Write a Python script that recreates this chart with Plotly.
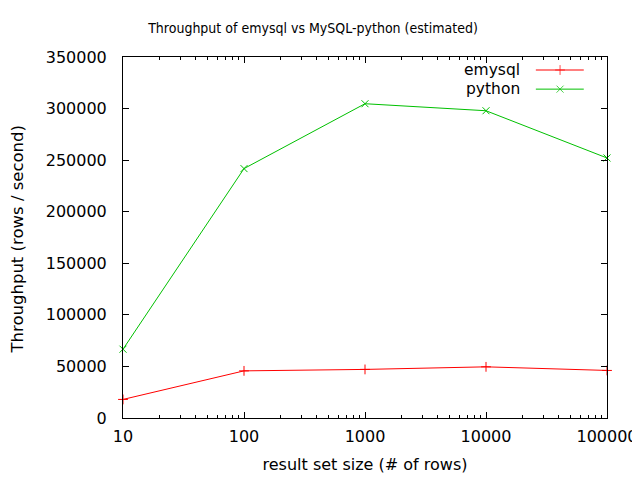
import plotly.graph_objects as go

# result set sizes and measured throughput (rows / second)
sizes = [10, 100, 1000, 10000, 100000]
emysql = [18000, 45700, 47100, 49600, 46100]
python = [66700, 241800, 304700, 297900, 252100]

series_names = ["emysql", "python"]
series_colors = ["#ff0000", "#00c000"]
series_symbols = ["cross-thin", "x-thin"]

FONT = "DejaVu Sans"
TITLE_FONT = "DejaVu Sans Condensed, DejaVu Sans"

fig = go.Figure()

for name, values, color, symbol in zip(series_names, [emysql, python],
                                       series_colors, series_symbols):
    fig.add_trace(go.Scatter(
        x=sizes, y=values, name=name, mode="lines+markers",
        line=dict(color=color, width=1),
        marker=dict(symbol=symbol, size=7,
                    line=dict(color=color, width=1)),
        showlegend=False, cliponaxis=False,
    ))

# gnuplot style key: label on the left, sample on the right
key_rows = [0.964, 0.911]
for name, color, symbol, ky in zip(series_names, series_colors,
                                   series_symbols, key_rows):
    fig.add_trace(go.Scatter(
        x=[0.853, 0.903, 0.952], y=[ky, ky, ky], xaxis="x2", yaxis="y2",
        mode="lines+markers", showlegend=False, hoverinfo="skip",
        line=dict(color=color, width=1),
        marker=dict(symbol=symbol, size=[0, 7, 0],
                    line=dict(color=color, width=1)),
    ))
    fig.add_annotation(x=0.824, y=ky, xref="x2", yref="y2", text=name,
                       showarrow=False, xanchor="right", yanchor="middle",
                       font=dict(family=FONT, size=15.5, color="#000000"))

# y axis title as a rotated annotation so it can sit close to the edge
fig.add_annotation(x=0, y=0.5, xref="paper", yref="paper",
                   text="Throughput (rows / second)", textangle=-90,
                   showarrow=False, xanchor="center", yanchor="middle",
                   xshift=-106, yshift=-2,
                   font=dict(family=FONT, size=16.5, color="#000000"))

axis_common = dict(
    showline=True, linecolor="#000000", linewidth=1, mirror="allticks",
    ticks="inside", tickcolor="#000000", ticklen=6,
    showgrid=False, zeroline=False, automargin=False,
    tickfont=dict(family=FONT, size=16, color="#000000"),
)

# the page body adds an 8px offset, so the figure is 632x472 and
# everything is placed 8px up/left of where it shows in the window
fig.update_layout(
    width=632, height=472,
    margin=dict(l=115, r=33, t=49, b=62),
    paper_bgcolor="#ffffff", plot_bgcolor="#ffffff",
    title=dict(text="Throughput of emysql vs MySQL-python (estimated)",
               x=0.4826, xanchor="center", y=0.958, yanchor="middle",
               font=dict(family=TITLE_FONT, size=14, color="#000000")),
    xaxis=dict(
        type="log", range=[1, 5],
        tickvals=[10, 100, 1000, 10000, 100000],
        ticktext=["10", "100", "1000", "10000", "100000"],
        minor=dict(ticks="inside", ticklen=3, tickcolor="#000000",
                   dtick="D1", showgrid=False),
        ticklabelstandoff=4,
        title=dict(text="result set size (# of rows)", standoff=13,
                   font=dict(family=FONT, size=16, color="#000000")),
        **axis_common,
    ),
    yaxis=dict(
        range=[0, 350000], dtick=50000, tickformat="d",
        ticklabelstandoff=12,
        **axis_common,
    ),
    xaxis2=dict(overlaying="x", range=[0, 1], visible=False),
    yaxis2=dict(overlaying="y", range=[0, 1], visible=False),
)

fig.write_html("out.html")
